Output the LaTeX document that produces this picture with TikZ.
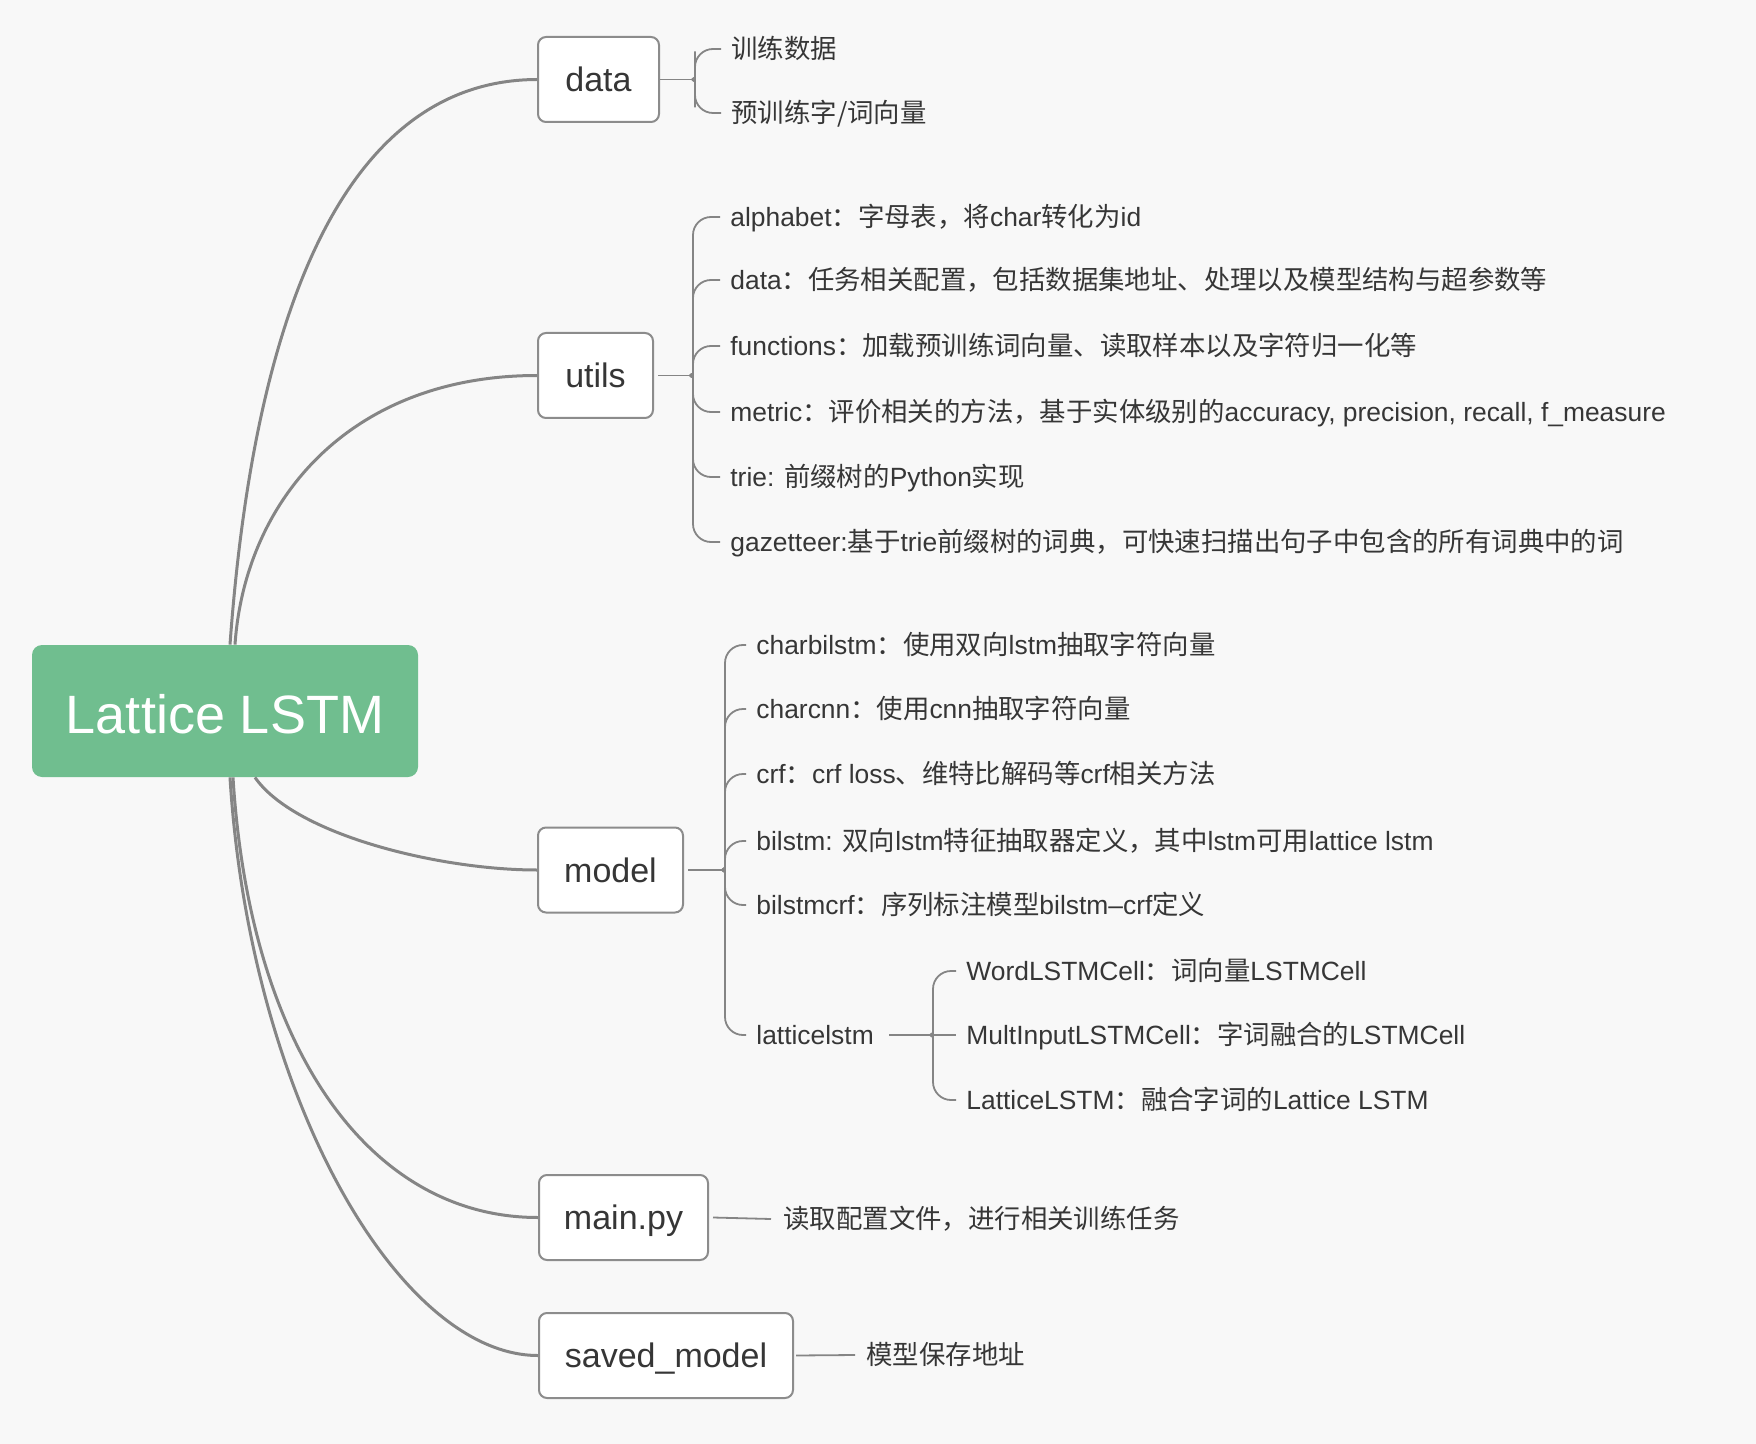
\documentclass[tikz,border=0pt]{standalone}
\usepackage{fontspec}
\setmainfont{Liberation Sans}
\newfontfamily\cjkfont{Noto Sans CJK SC}
\newcommand\zh[1]{{\cjkfont #1}}
\definecolor{bgc}{HTML}{F8F8F8}
\definecolor{rootc}{RGB}{112,190,143}
\definecolor{linec}{HTML}{858585}
\definecolor{boxline}{HTML}{8C8C8C}
\definecolor{txt}{HTML}{363636}
% brace branch from junction #1 to child node #2, going up or down
\newcommand\brup[2]{\draw[br] ([xshift=-1.5pt]#1) .. controls ([yshift=1pt]#1) and ([yshift=2.5pt]#1) .. ([yshift=5pt]#1) |- (#2.west);}
\newcommand\brdn[2]{\draw[br] ([xshift=-1.5pt]#1) .. controls ([yshift=-1pt]#1) and ([yshift=-2.5pt]#1) .. ([yshift=-5pt]#1) |- (#2.west);}
\begin{document}
\begin{tikzpicture}[x=0.5pt,y=-0.5pt,
  root/.style={fill=rootc, rounded corners=5pt, minimum width=193pt, minimum height=66pt,
    inner sep=0pt, text=white, font=\fontsize{27}{32}\selectfont, text height=22pt, text depth=0pt},
  box/.style={draw=boxline, line width=1pt, fill=white, rounded corners=4pt,
    font=\fontsize{17}{20}\selectfont, text=txt, text height=12.2pt, text depth=0pt,
    minimum height=42.5pt, inner sep=0pt},
  leaf/.style={anchor=west, inner xsep=5pt, inner ysep=0pt, font=\fontsize{13.2}{16}\selectfont,
    text=txt, text height=10.6pt, text depth=1.1pt},
  conn/.style={draw=linec, line width=1.5pt},
  br/.style={draw=linec, line width=0.9pt, rounded corners=9pt}]
\fill[bgc] (0,0) rectangle (1756,1444);
\useasboundingbox (0,0) rectangle (1756,1444);

% main topics
\node[root] (root) at (225,711) {Lattice LSTM};
\node[box, minimum width=60.5pt] (data) at (598.5,79.5) {data};
\node[box, minimum width=57.5pt] (utils) at (595.5,375.5) {utils};
\node[box, minimum width=72.5pt] (model) at (610.5,870) {model};
\node[box, minimum width=84.5pt] (main) at (623.5,1217.5) {main.py};
\node[box, minimum width=127pt] (saved) at (666,1355.5) {saved\_model};

% main connectors
\draw[conn] ([xshift=2.5pt]root.north) .. controls (255,300) and (350,80) .. (data.west);
\draw[conn] ([xshift=5pt]root.north) .. controls (245,500) and (350,375.5) .. (utils.west);
\draw[conn] ([xshift=15pt]root.south) .. controls (295,835) and (440,870) .. (model.west);
\draw[conn] ([xshift=4pt]root.south) .. controls (250,1050) and (370,1217.5) .. (main.west);
\draw[conn] ([xshift=2.5pt]root.south) .. controls (250,1100) and (400,1355.5) .. (saved.west);

% junctions
\coordinate (jd) at (695,79.5);
\coordinate (ju) at (693,375.5);
\coordinate (jm) at (725,870);
\coordinate (jl) at (933,1035);

% data leaves
\node[leaf] (d1) at (721,49) {\zh{训练数据}};
\node[leaf] (d2) at (721,113) {\zh{预训练字/词向量}};

% utils leaves
\begin{scope}[every node/.append style={inner xsep=3.5pt}]
\node[leaf] (u1) at (720,217) {alphabet\zh{：字母表，将}char\zh{转化为}id};
\node[leaf] (u2) at (720,280) {data\zh{：任务相关配置，包括数据集地址、处理以及模型结构与超参数等}};
\node[leaf] (u3) at (720,346) {functions\zh{：加载预训练词向量、读取样本以及字符归一化等}};
\node[leaf] (u4) at (720,412) {metric\zh{：评价相关的方法，基于实体级别的}accuracy, precision, recall, f\_measure};
\node[leaf] (u5) at (720,477) {trie: \zh{前缀树的}Python\zh{实现}};
\node[leaf] (u6) at (720,542) {gazetteer:\zh{基于}trie\zh{前缀树的词典，可快速扫描出句子中包含的所有词典中的词}};
\end{scope}

% model leaves
\begin{scope}[every node/.append style={inner xsep=5.5pt}]
\node[leaf] (m1) at (746,645) {charbilstm\zh{：使用双向}lstm\zh{抽取字符向量}};
\node[leaf] (m2) at (746,709) {charcnn\zh{：使用}cnn\zh{抽取字符向量}};
\node[leaf] (m3) at (746,774) {crf\zh{：}crf loss\zh{、维特比解码等}crf\zh{相关方法}};
\node[leaf] (m4) at (746,841) {bilstm: \zh{双向}lstm\zh{特征抽取器定义，其中}lstm\zh{可用}lattice lstm};
\node[leaf] (m5) at (746,905) {bilstmcrf\zh{：序列标注模型}bilstm–crf\zh{定义}};
\node[leaf] (lat) at (746,1035) {latticelstm};
\end{scope}

% lattice leaves
\node[leaf] (l1) at (956,971) {WordLSTMCell\zh{：词向量}LSTMCell};
\node[leaf] (l2) at (956,1035) {MultInputLSTMCell\zh{：字词融合的}LSTMCell};
\node[leaf] (l3) at (956,1100) {LatticeLSTM\zh{：融合字词的}Lattice LSTM};

% main / saved leaves
\node[leaf, inner xsep=6pt] (ml) at (771,1219) {\zh{读取配置文件，进行相关训练任务}};
\node[leaf, inner xsep=5.5pt] (sl) at (855,1355) {\zh{模型保存地址}};

% brace connectors
\draw[br] (data.east) -- ([xshift=-1.5pt]jd);
\draw[br] ([xshift=2pt]utils.east) -- ([xshift=-1.5pt]ju);
\draw[br] ([xshift=2pt]model.east) -- ([xshift=-1.5pt]jm);
\draw[br] ([xshift=2.5pt]lat.east) -- ([xshift=-1.5pt]jl);
\draw[br] ([xshift=2pt]main.east) -- (ml.west);
\draw[br] ([xshift=1pt]saved.east) -- (sl.west);
\brup{jd}{d1} \brdn{jd}{d2}
\foreach \n in {u1,u2,u3} {\brup{ju}{\n}}
\foreach \n in {u4,u5,u6} {\brdn{ju}{\n}}
\foreach \n in {m1,m2,m3,m4} {\brup{jm}{\n}}
\foreach \n in {m5,lat} {\brdn{jm}{\n}}
\brup{jl}{l1} \brdn{jl}{l3}
\draw[br] ([xshift=-1.5pt]jl) -- (l2.west);
\end{tikzpicture}
\end{document}
